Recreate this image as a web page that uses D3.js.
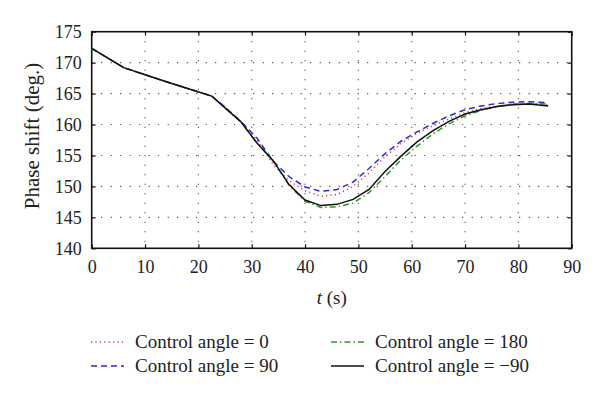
<!DOCTYPE html>
<html>
<head>
<meta charset="utf-8">
<script src="https://cdn.jsdelivr.net/npm/d3@7"></script>
<style>
  body { margin: 0; background: #fff; }
</style>
</head>
<body>
<div id="chart"></div>
<script>
const w = 600;
const h = 393;
const FONT = "'Liberation Serif'";

// shared start, then the four runs split
const tCommon = [0, 6, 14, 22.5];
const vCommon = [172.3, 169.2, 166.9, 164.6];

const tSplit = [25, 28, 31, 34, 37, 40, 43, 46, 49, 52, 55, 58, 61, 64, 67, 70, 73, 76, 79, 82, 85.6];
const angle0   = [162.8, 160.5, 157.5, 153.6, 150.9, 149.3, 148.4, 148.7, 150.0, 152.2, 154.8, 156.9, 158.6, 159.8, 160.9, 161.9, 162.6, 163.0, 163.3, 163.4, 163.2];
const angle90  = [162.8, 160.5, 157.8, 154.1, 151.6, 149.9, 149.2, 149.5, 150.7, 152.9, 155.3, 157.3, 158.8, 160.2, 161.4, 162.4, 163.0, 163.4, 163.6, 163.7, 163.5];
const angle180 = [162.7, 160.4, 157.0, 154.1, 150.2, 147.6, 146.6, 146.7, 147.3, 149.0, 151.6, 154.3, 156.5, 158.5, 160.1, 161.4, 162.3, 162.9, 163.3, 163.4, 163.3];
const angleM90 = [162.7, 160.4, 157.0, 154.2, 150.3, 147.8, 146.9, 147.1, 147.9, 149.5, 152.4, 154.9, 157.2, 159.0, 160.5, 161.7, 162.4, 162.9, 163.2, 163.3, 163.0];

const xTicks = [0, 10, 20, 30, 40, 50, 60, 70, 80, 90];
const yTicks = [140, 145, 150, 155, 160, 165, 170, 175];

const series = [
  { name: "Control angle = 0",   vals: angle0,   color: "#e23b3b", dash: "1.2,3.2" },
  { name: "Control angle = 90",  vals: angle90,  color: "#2a2ae0", dash: "6,4" },
  { name: "Control angle = 180", vals: angle180, color: "#2b9a2b", dash: "6,3,1.5,3" },
  { name: "Control angle = \u221290", vals: angleM90, color: "#111", dash: null }
];

const margin = { left: 91.7, right: 28.3, top: 31.7, bottom: 144.7 };
const iw = w - margin.left - margin.right;
const ih = h - margin.top - margin.bottom;

const x = d3.scaleLinear().domain([0, 90]).range([0, iw]);
const y = d3.scaleLinear().domain([140, 175]).range([ih, 0]);

const svg = d3.select("#chart").append("svg").attr("width", w).attr("height", h);
const g = svg.append("g").attr("transform", "translate(" + margin.left + "," + margin.top + ")");

// dotted grid
g.selectAll(".vg").data(xTicks.slice(1, -1)).enter().append("line")
  .attr("x1", d => x(d)).attr("x2", d => x(d)).attr("y1", 0).attr("y2", ih)
  .attr("stroke", "#333").attr("stroke-width", 1.1).attr("stroke-dasharray", "1,8.5");
g.selectAll(".hg").data(yTicks.slice(1, -1)).enter().append("line")
  .attr("y1", d => y(d)).attr("y2", d => y(d)).attr("x1", 0).attr("x2", iw)
  .attr("stroke", "#333").attr("stroke-width", 1.1).attr("stroke-dasharray", "1,8.5");

// axes
const xAxis = g.append("g").attr("transform", "translate(0," + ih + ")")
  .call(d3.axisBottom(x).tickValues(xTicks).tickSizeInner(-4).tickSizeOuter(0).tickPadding(12));
const yAxis = g.append("g")
  .call(d3.axisLeft(y).tickValues(yTicks).tickSizeInner(-4).tickSizeOuter(0).tickPadding(10));
const xTop = g.append("g").call(d3.axisTop(x).tickValues(xTicks).tickSizeInner(-4).tickSizeOuter(0).tickFormat(""));
const yRight = g.append("g").attr("transform", "translate(" + iw + ",0)")
  .call(d3.axisRight(y).tickValues(yTicks).tickSizeInner(-4).tickSizeOuter(0).tickFormat(""));

[xAxis, yAxis, xTop, yRight].forEach(a => {
  a.attr("font-family", null);
  a.select(".domain").remove();
  a.selectAll(".tick line").attr("stroke", "#111").attr("stroke-width", 1.2);
  a.selectAll("text").style("font-family", FONT).style("font-size", "18px").attr("fill", "#222");
});

g.append("rect").attr("width", iw).attr("height", ih)
  .attr("fill", "none").attr("stroke", "#111").attr("stroke-width", 1.6);

// lines
const line = d3.line().x(d => x(d[0])).y(d => y(d[1]));
series.forEach(s => {
  const pts = tCommon.map((t, i) => [t, vCommon[i]])
    .concat(tSplit.map((t, i) => [t, s.vals[i]]));
  g.append("path").datum(pts)
    .attr("d", line)
    .attr("fill", "none")
    .attr("stroke", s.color)
    .attr("stroke-width", 1.5)
    .attr("stroke-dasharray", s.dash);
});

// axis titles
const xl = svg.append("text").attr("x", margin.left + iw / 2).attr("y", 304)
  .attr("text-anchor", "middle").style("font-family", FONT).style("font-size", "19px").attr("fill", "#222");
xl.append("tspan").style("font-style", "italic").text("t");
xl.append("tspan").text(" (s)");

svg.append("text")
  .attr("transform", "translate(39," + (margin.top + ih / 2 - 4) + ") rotate(-90)")
  .attr("text-anchor", "middle").style("font-family", FONT).style("font-size", "21px").attr("fill", "#222")
  .text("Phase shift (deg.)");

// legend
const legPos = [[91, 342], [91, 366], [331, 342], [331, 366]];
series.forEach((s, i) => {
  const [lx, ly] = legPos[i];
  svg.append("line").attr("x1", lx).attr("x2", lx + 33).attr("y1", ly).attr("y2", ly)
    .attr("stroke", s.color).attr("stroke-width", 1.5).attr("stroke-dasharray", s.dash);
  svg.append("text").attr("x", lx + 44).attr("y", ly + 6)
    .style("font-family", FONT).style("font-size", "19px").attr("fill", "#222").text(s.name);
});
</script>
</body>
</html>
